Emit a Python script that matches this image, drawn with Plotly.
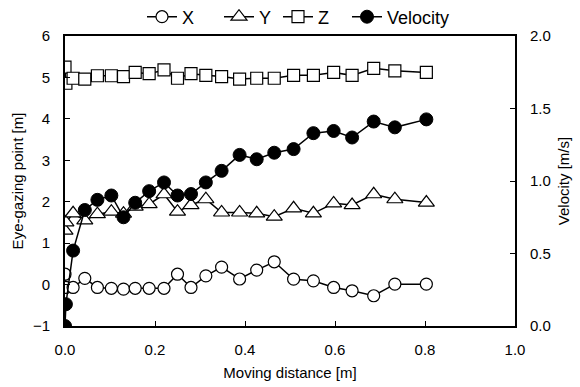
import plotly.graph_objects as go

dist = [0.0, 0.002, 0.018, 0.044, 0.072, 0.103, 0.13, 0.156, 0.187, 0.22, 0.25, 0.28,
        0.313, 0.348, 0.388, 0.426, 0.465, 0.508, 0.552, 0.597, 0.638, 0.686, 0.733, 0.803]
gaze_x = [0.25, -0.07, -0.07, 0.15, -0.07, -0.09, -0.11, -0.09, -0.09, -0.09, 0.25, -0.07,
          0.21, 0.42, 0.135, 0.35, 0.55, 0.13, 0.09, -0.07, -0.15, -0.27, 0.01, 0.01]
gaze_y = [1.3, 1.5, 1.72, 1.55, 1.70, 1.76, 1.71, 1.88, 1.94, 2.18, 1.76, 1.92,
          2.06, 1.74, 1.74, 1.72, 1.64, 1.84, 1.72, 1.96, 1.92, 2.18, 2.06, 1.98]
gaze_z = [5.25, 4.86, 4.98, 4.96, 5.04, 5.04, 5.02, 5.12, 5.09, 5.18, 4.98, 5.09,
          5.05, 5.02, 4.96, 4.98, 4.98, 5.05, 5.05, 5.12, 5.05, 5.22, 5.16, 5.12]
velocity = [0.0, 0.15, 0.52, 0.80, 0.87, 0.90, 0.75, 0.85, 0.93, 0.99, 0.90, 0.91,
            0.99, 1.07, 1.18, 1.15, 1.195, 1.22, 1.33, 1.345, 1.30, 1.41, 1.37, 1.425]

FONT = "Liberation Sans, Arial, sans-serif"
line = dict(color="black", width=1.5)

fig = go.Figure()
fig.add_trace(go.Scatter(x=dist, y=gaze_x, name="X", mode="lines+markers", line=line,
                         legend="legend",
                         marker=dict(symbol="circle", size=12, color="white",
                                     line=dict(color="black", width=1.2))))
fig.add_trace(go.Scatter(x=dist, y=gaze_y, name="Y", mode="lines+markers", line=line,
                         legend="legend2",
                         marker=dict(symbol="triangle-up", size=14, color="white",
                                     line=dict(color="black", width=1.2))))
fig.add_trace(go.Scatter(x=dist, y=gaze_z, name="Z", mode="lines+markers", line=line,
                         legend="legend3",
                         marker=dict(symbol="square", size=12, color="white",
                                     line=dict(color="black", width=1.2))))
fig.add_trace(go.Scatter(x=dist, y=velocity, name="Velocity", mode="lines+markers", line=line,
                         yaxis="y2", legend="legend4",
                         marker=dict(symbol="circle", size=13, color="black",
                                     line=dict(color="black", width=1))))

axis_common = dict(showline=True, linecolor="black", linewidth=2, ticks="inside",
                   tickcolor="black", ticklen=5, showgrid=False, zeroline=False,
                   tickfont=dict(family=FONT, size=15, color="black"))


def leg(px):
    return dict(orientation="h", xref="container", yref="container",
                x=px / 580, y=1 - 17 / 387, xanchor="left", yanchor="middle",
                font=dict(family=FONT, size=18, color="black"),
                itemwidth=30, bgcolor="rgba(0,0,0,0)", borderwidth=0)


fig.update_layout(
    width=580, height=387,
    margin=dict(l=65, r=65, t=36, b=61, autoexpand=False),
    paper_bgcolor="white", plot_bgcolor="white",
    font=dict(family=FONT, size=15, color="black"),
    showlegend=True,
    legend=leg(142), legend2=leg(219), legend3=leg(278), legend4=leg(347),
    xaxis=dict(range=[0, 1], dtick=0.2, tickformat=".1f", mirror=True, ticklabelstandoff=9,
               title=dict(text="Moving distance [m]", font=dict(family=FONT, size=15), standoff=10),
               **axis_common),
    yaxis=dict(range=[-1, 6], dtick=1, ticklabelstandoff=10,
               title=dict(text="Eye-gazing point [m]", font=dict(family=FONT, size=15), standoff=6),
               **axis_common),
    yaxis2=dict(range=[0, 2], dtick=0.5, tickformat=".1f", overlaying="y", side="right",
                ticklabelstandoff=10,
                title=dict(text="Velocity [m/s]", font=dict(family=FONT, size=15), standoff=9),
                **axis_common),
)

fig.write_html("out.html")
